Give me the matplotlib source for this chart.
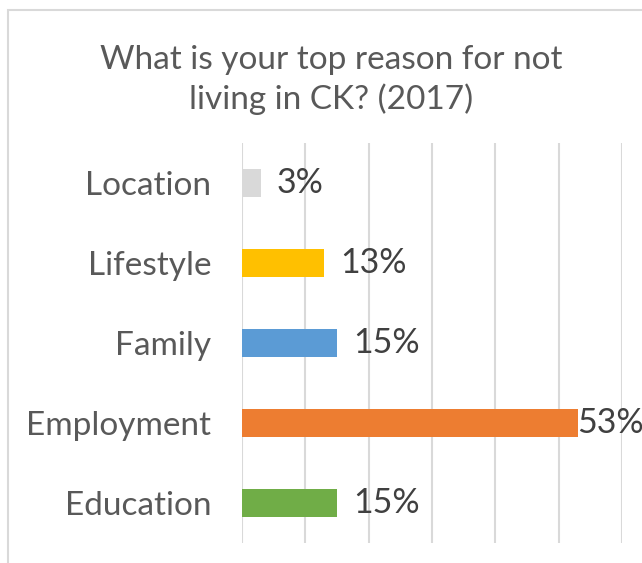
import matplotlib.pyplot as plt
from matplotlib.patches import Rectangle

categories = ["Education", "Employment", "Family", "Lifestyle", "Location"]
values = [15, 53, 15, 13, 3]
colors = ["#70AD47", "#ED7D31", "#5B9BD5", "#FFC000", "#D9D9D9"]
title = "What is your top reason for not\nliving in CK? (2017)"

plt.rcParams["font.family"] = ["Lato", "DejaVu Sans"]
text_color = "#595959"

fig = plt.figure(figsize=(6.42, 5.63), dpi=100)
ax = fig.add_axes([242 / 642, 20 / 563, 380 / 642, 400 / 563])

ax.barh(range(len(categories)), values, height=0.36, color=colors, zorder=2)

ax.set_xlim(0, 60)
ax.set_ylim(-0.5, len(categories) - 0.5)
ax.set_xticks(range(0, 61, 10))
ax.set_xticklabels([])
ax.set_yticks(range(len(categories)))
ax.set_yticklabels(categories, fontsize=24, color=text_color)
ax.tick_params(axis="both", length=0, pad=22)
ax.grid(axis="x", color="#D9D9D9", linewidth=1.5, zorder=0)
for s in ax.spines.values():
    s.set_visible(False)

for i, v in enumerate(values):
    off = 16 if v < 50 else -1
    ax.annotate(f"{v}%", (v, i), xytext=(off * 0.72, 0), textcoords="offset points",
                va="center", ha="left", fontsize=24.5, color="#404040",
                annotation_clip=False)

fig.text(331 / 642, 1 - 80 / 563, title, ha="center", va="center",
         fontsize=24, color=text_color, linespacing=1.33)

fig.patches.append(Rectangle((8 / 642, -0.1), 1.2, 1.1 - 10 / 563,
                             transform=fig.transFigure, fill=False,
                             edgecolor="#D9D9D9", linewidth=1.5))

plt.savefig("out.png", dpi=100)
